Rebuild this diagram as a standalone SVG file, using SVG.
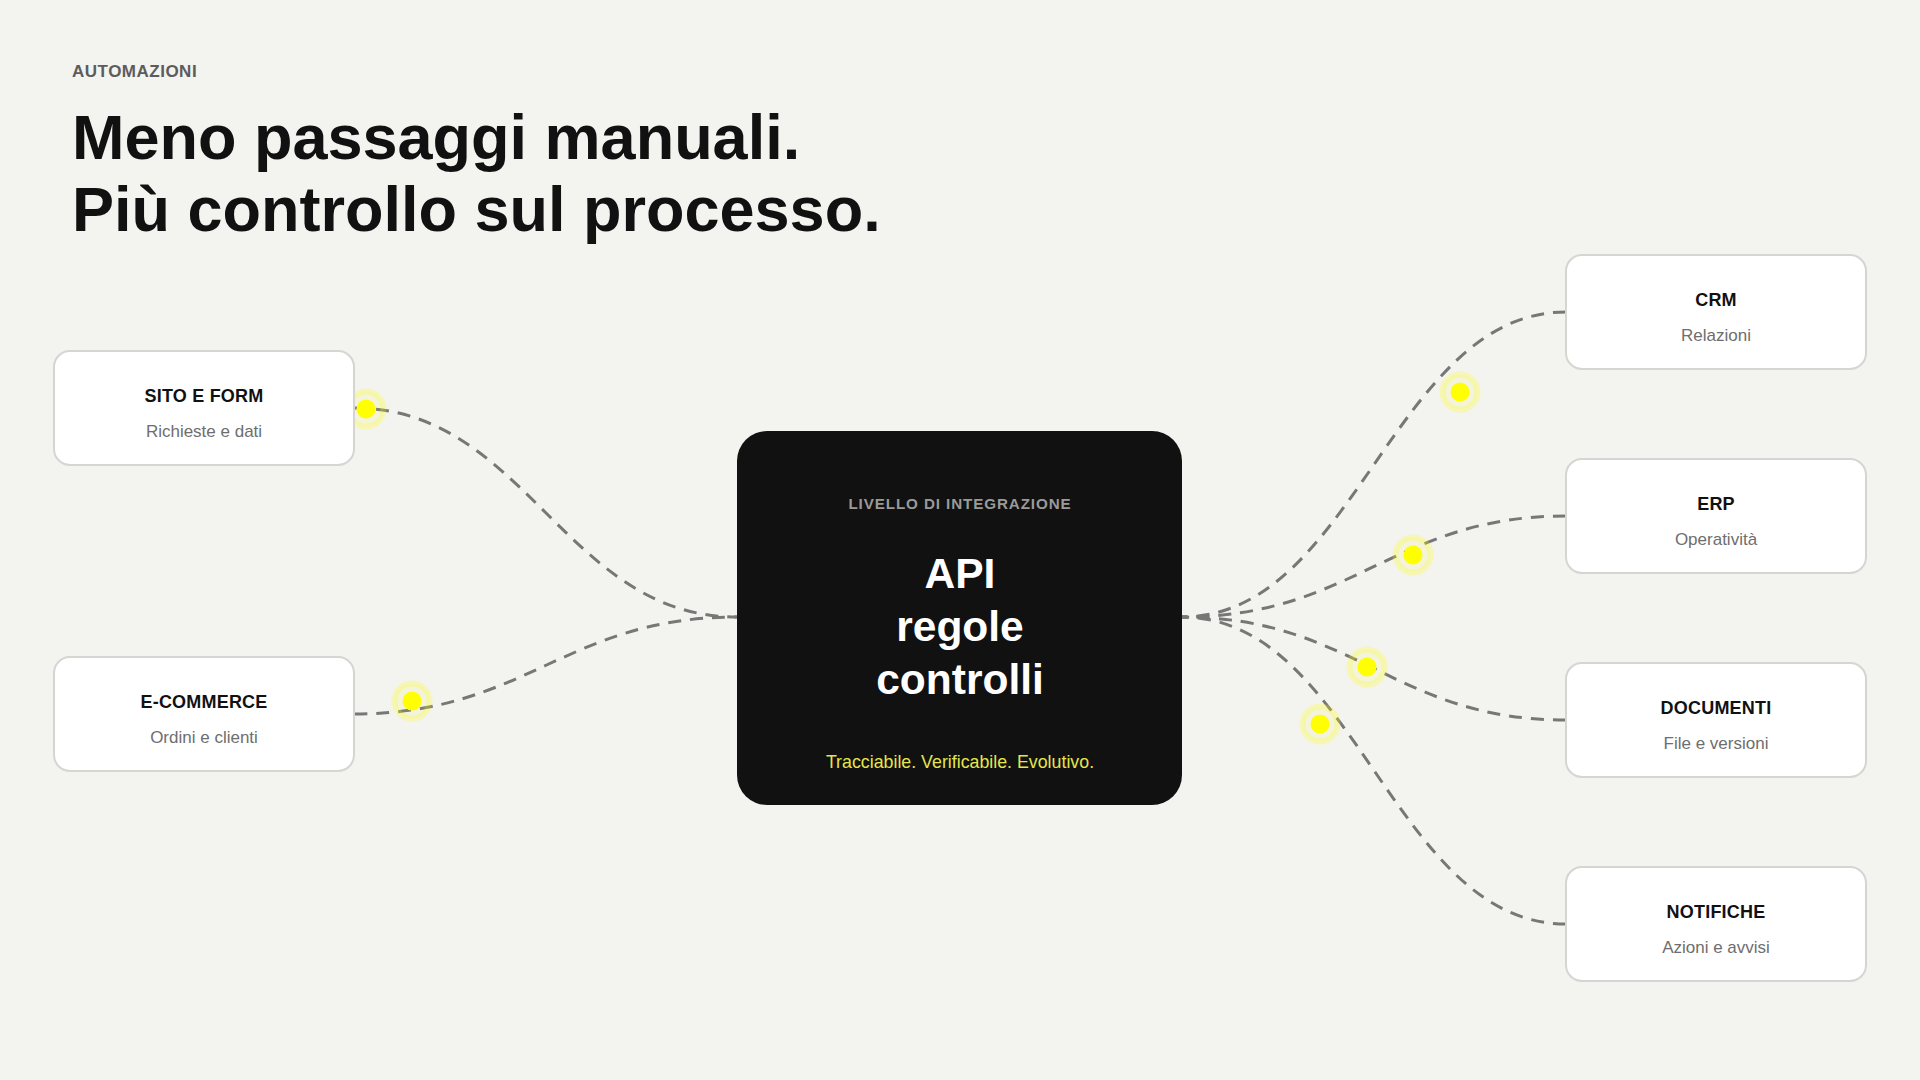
<svg xmlns="http://www.w3.org/2000/svg" width="1920" height="1080" viewBox="0 0 1920 1080">
  <style>
    .bg { fill: #f3f3ef; }
    .eyebrow { font-family: "Liberation Sans", Arial, sans-serif; font-size: 17px; font-weight: 700; fill: #5c5c5c; letter-spacing: 0.5px; }
    .headline { font-family: "Liberation Sans", Arial, sans-serif; font-size: 63px; font-weight: 700; fill: #111111; }
    .card { fill: #ffffff; stroke: #d5d5d1; stroke-width: 2; }
    .card-title { font-family: "Liberation Sans", Arial, sans-serif; font-size: 18px; font-weight: 700; fill: #111111; text-anchor: middle; letter-spacing: 0.2px; }
    .card-sub { font-family: "Liberation Sans", Arial, sans-serif; font-size: 17px; fill: #6e6e6e; text-anchor: middle; }
    .hub { fill: #111111; }
    .hub-kicker { font-family: "Liberation Sans", Arial, sans-serif; font-size: 15.2px; font-weight: 700; fill: #9a9a9a; text-anchor: middle; letter-spacing: 0.9px; }
    .hub-main { font-family: "Liberation Sans", Arial, sans-serif; font-size: 42.5px; font-weight: 700; fill: #ffffff; text-anchor: middle; }
    .hub-tag { font-family: "Liberation Sans", Arial, sans-serif; font-size: 17.8px; fill: #e4e64c; text-anchor: middle; }
    .link { fill: none; stroke: #777777; stroke-width: 3; stroke-dasharray: 13 9; }
    .halo { fill: rgba(255,255,0,0.08); stroke: rgba(255,255,0,0.24); stroke-width: 6; }
    .core { fill: #ffff00; }
  </style>

  <rect class="bg" x="0" y="0" width="1920" height="1080"/>

  <g id="header">
    <text class="eyebrow" x="72" y="77">AUTOMAZIONI</text>
    <text class="headline" x="72" y="159">Meno passaggi manuali.</text>
    <text class="headline" x="72" y="231">Più controllo sul processo.</text>
  </g>

  <g id="connectors">
    <path class="link" d="M354,408 C526,408 565,617 737,617"/>
    <path class="link" d="M354,714 C526,714 565,617 737,617"/>
    <path class="link" d="M1566,312 C1393,312 1355,617 1182,617"/>
    <path class="link" d="M1566,516 C1393,516 1355,617 1182,617"/>
    <path class="link" d="M1566,720 C1393,720 1355,617 1182,617"/>
    <path class="link" d="M1566,924 C1393,924 1355,617 1182,617"/>
  </g>

  <g id="pulses">
    <g id="pulse-sito"><circle class="halo" cx="366" cy="409" r="17.5"/><circle class="core" cx="366" cy="409" r="9.5"/></g>
    <g id="pulse-ecommerce"><circle class="halo" cx="412" cy="701" r="17.5"/><circle class="core" cx="412" cy="701" r="9.5"/></g>
    <g id="pulse-crm"><circle class="halo" cx="1460" cy="392" r="17.5"/><circle class="core" cx="1460" cy="392" r="9.5"/></g>
    <g id="pulse-erp"><circle class="halo" cx="1413" cy="555" r="17.5"/><circle class="core" cx="1413" cy="555" r="9.5"/></g>
    <g id="pulse-documenti"><circle class="halo" cx="1367" cy="667" r="17.5"/><circle class="core" cx="1367" cy="667" r="9.5"/></g>
    <g id="pulse-notifiche"><circle class="halo" cx="1320" cy="724" r="17.5"/><circle class="core" cx="1320" cy="724" r="9.5"/></g>
  </g>

  <g id="node-sito">
    <rect class="card" x="54" y="351" width="300" height="114" rx="16"/>
    <text class="card-title" x="204" y="402">SITO E FORM</text>
    <text class="card-sub" x="204" y="437">Richieste e dati</text>
  </g>

  <g id="node-ecommerce">
    <rect class="card" x="54" y="657" width="300" height="114" rx="16"/>
    <text class="card-title" x="204" y="708">E-COMMERCE</text>
    <text class="card-sub" x="204" y="743">Ordini e clienti</text>
  </g>

  <g id="node-hub">
    <rect class="hub" x="737" y="431" width="445" height="374" rx="30"/>
    <text class="hub-kicker" x="960" y="509">LIVELLO DI INTEGRAZIONE</text>
    <text class="hub-main" x="960" y="588">API</text>
    <text class="hub-main" x="960" y="641">regole</text>
    <text class="hub-main" x="960" y="694">controlli</text>
    <text class="hub-tag" x="960" y="768">Tracciabile. Verificabile. Evolutivo.</text>
  </g>

  <g id="node-crm">
    <rect class="card" x="1566" y="255" width="300" height="114" rx="16"/>
    <text class="card-title" x="1716" y="306">CRM</text>
    <text class="card-sub" x="1716" y="341">Relazioni</text>
  </g>

  <g id="node-erp">
    <rect class="card" x="1566" y="459" width="300" height="114" rx="16"/>
    <text class="card-title" x="1716" y="510">ERP</text>
    <text class="card-sub" x="1716" y="545">Operatività</text>
  </g>

  <g id="node-documenti">
    <rect class="card" x="1566" y="663" width="300" height="114" rx="16"/>
    <text class="card-title" x="1716" y="714">DOCUMENTI</text>
    <text class="card-sub" x="1716" y="749">File e versioni</text>
  </g>

  <g id="node-notifiche">
    <rect class="card" x="1566" y="867" width="300" height="114" rx="16"/>
    <text class="card-title" x="1716" y="918">NOTIFICHE</text>
    <text class="card-sub" x="1716" y="953">Azioni e avvisi</text>
  </g>
</svg>
